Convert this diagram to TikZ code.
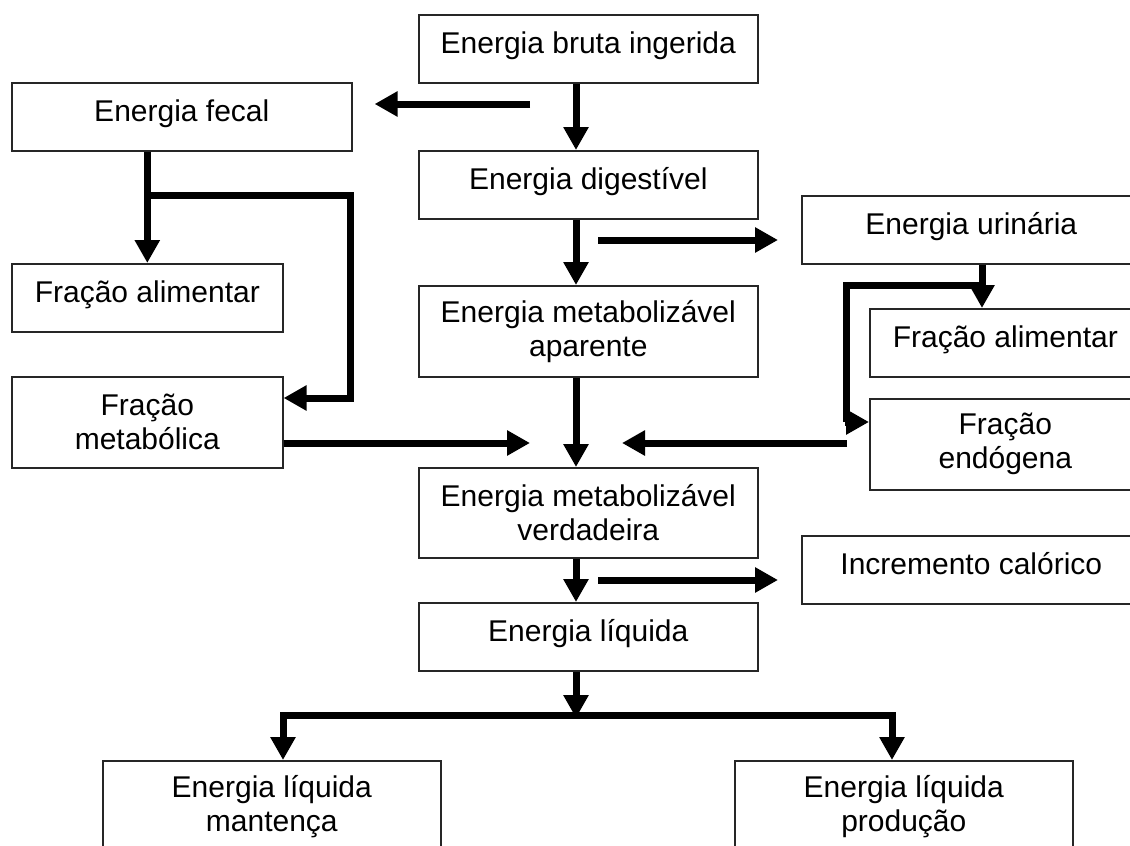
\documentclass[tikz,border=0pt]{standalone}
\usepackage{fontspec}
\setmainfont{Liberation Sans}
\usetikzlibrary{arrows.meta}
\begin{document}
\begin{tikzpicture}[x=1pt,y=-1pt,
  box/.style={draw=black!85, line width=1.6pt, inner sep=0pt, anchor=north west,
    font=\fontsize{30}{34}\selectfont, align=center},
  one/.style={text height=22pt, text depth=13pt},
  wide/.style={minimum width=339pt},
  narrow/.style={minimum width=271pt},
  low/.style={minimum height=68pt},
  tall/.style={minimum height=91pt},
  flow/.style={line width=7pt, -{Triangle[length=23pt,width=24pt]}},
  bar/.style={line width=7pt}]
\useasboundingbox (0,0) rectangle (1130,846);
\clip (0,0) rectangle (1130,846);
% boxes
\node[box, one, wide, low] (bruta) at (418,14) {Energia bruta ingerida};
\node[box, one, minimum width=340pt, low] (fecal) at (11,82) {Energia fecal};
\node[box, one, wide, low] (dig) at (418,150) {Energia digestível};
\node[box, one, wide, low] (urin) at (801,195) {Energia urinária};
\node[box, one, narrow, low] (fracL) at (11,263) {Fração alimentar};
\node[box, wide, tall] (ema) at (418,285) {Energia metabolizável\\aparente};
\node[box, one, narrow, low] (fracR) at (869,308) {Fração alimentar};
\node[box, narrow, tall] (metab) at (11,376) {Fração\\metabólica};
\node[box, narrow, tall] (endo) at (869,398) {Fração\\endógena};
\node[box, wide, minimum height=90pt] (emv) at (418,467) {Energia metabolizável\\verdadeira};
\node[box, one, wide, low] (incr) at (801,535) {Incremento calórico};
\node[box, one, wide, low] (liq) at (418,602) {Energia líquida};
\node[box, minimum width=338pt, tall] (mant) at (102,760) {Energia líquida\\mantença};
\node[box, minimum width=338pt, tall] (prod) at (734,760) {Energia líquida\\produção};
% helper coordinates
\coordinate (sp) at (576,0);
\coordinate (fs) at (530,104);
\coordinate (fb1) at (350,195);
\coordinate (fb2) at (350,398);
\coordinate (mtip) at (530,443);
\coordinate (us) at (598,240);
\coordinate (ub1) at (982,285);
\coordinate (ub2) at (846,285);
\coordinate (ub3) at (846,422);
\coordinate (estart) at (847,443);
\coordinate (etip) at (622,443);
\coordinate (is) at (598,580);
\coordinate (split) at (576,715);
\coordinate (bl) at (283,715);
\coordinate (br) at (892,715);
% main spine
\draw[flow] (sp |- bruta.south) -- (sp |- dig.north);
\draw[flow] (sp |- dig.south) -- (sp |- ema.north);
\draw[flow] (sp |- ema.south) -- (sp |- emv.north);
\draw[flow] (sp |- emv.south) -- (sp |- liq.north);
\draw[flow] (sp |- liq.south) -- ([yshift=-3pt]split);
% side outputs
\draw[flow, shorten >=22pt] (fs) -- (fs -| fecal.east);
\draw[flow, shorten >=23pt] (us) -- (us -| urin.west);
\draw[flow, shorten >=23pt] (is) -- (is -| incr.west);
% fecal branches
\draw[flow] (fracL.north |- fecal.south) -- (fracL.north);
\draw[flow] (fracL.north |- fb1) -- (fb1) -- (fb2) -- (fb2 -| metab.east);
\draw[flow] (mtip -| metab.east) -- (mtip);
% urinary branches
\draw[flow] (ub1 |- urin.south) -- (ub1 |- fracR.north);
\draw[bar] (ub1) -- (ub2) -- (ub3);
\draw[flow] ([xshift=-1pt]ub3) -- (ub3 -| endo.west);
\draw[flow] (estart) -- (etip);
% net energy split
\draw[flow] (split) -- (bl) -- (bl |- mant.north);
\draw[flow] (split) -- (br) -- (br |- prod.north);
\end{tikzpicture}
\end{document}
